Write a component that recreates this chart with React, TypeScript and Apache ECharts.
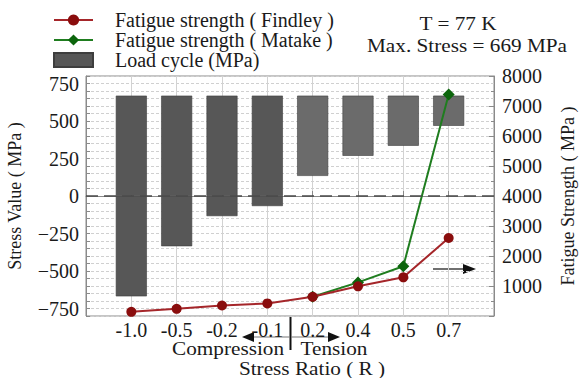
import React, { useEffect, useRef } from "react";
import * as echarts from "echarts";

const categories = ["-1.0", "-0.5", "-0.2", "-0.1", "0.2", "0.4", "0.5", "0.7"];
const loadMax = [669, 669, 669, 669, 669, 669, 669, 669];
const loadMin = [-669, -335, -134, -67, 134, 268, 335, 468];
const findley = [140, 240, 350, 420, 640, 990, 1290, 2600];
const matake: (number | null)[] = [null, null, null, null, 640, 1120, 1660, 7380];

const FONT = "'Liberation Serif', 'Times New Roman', serif";
const TXT = "#1a1a1a";

const pad = <T,>(arr: T[]): (T | null)[] => [null, ...arr, null];

export default function App() {
  const ref = useRef<HTMLDivElement>(null);
  useEffect(() => {
    document.body.style.margin = "0";
    if (!ref.current) return;
    const chart = echarts.init(ref.current, undefined, { renderer: "svg" });
    const xData = ["", ...categories, ""];
    const base = loadMin.map((m) => (m > 0 ? m : 0));
    const barColor = "#575757";
    const barColorT = "#6b6b6b";
    const barBorder = "#3e3e3e";
    const top = loadMin.map((m, i) => ({
      value: loadMax[i] - (m > 0 ? m : 0),
      itemStyle: { color: m > 0 ? barColorT : barColor },
    }));
    const neg = loadMin.map((m) => (m < 0 ? m : null));

    const scaledText = (text: string, x: number, y: number, size = 18) => ({
      type: "text",
      x,
      y,
      scaleX: 1.18,
      style: {
        text,
        fontFamily: FONT,
        fontSize: size,
        fill: TXT,
        textAlign: "center",
        textVerticalAlign: "middle",
      },
    });

    chart.setOption({
      animation: false,
      backgroundColor: "#ffffff",
      grid: {
        left: 86,
        right: 86,
        top: 76,
        bottom: 62,
        outerBoundsMode: "none",
        containLabel: false,
        show: true,
        borderColor: "#8a8a8a",
        borderWidth: 1,
      },
      legend: {
        data: [
          "Fatigue strength ( Findley )",
          "Fatigue strength ( Matake )",
          { name: "Load cycle (MPa)", icon: "rect", itemStyle: { color: barColor } },
        ],
        orient: "vertical",
        left: 48,
        top: 5,
        itemWidth: 39,
        itemHeight: 14,
        itemGap: 0,
        textStyle: {
          fontFamily: FONT,
          fontSize: 20,
          color: TXT,
          lineHeight: 20,
          padding: [0, 0, 0, 17],
        },
      },
      xAxis: {
        type: "category",
        data: xData,
        boundaryGap: false,
        axisLine: { lineStyle: { color: "#8a8a8a" } },
        axisTick: { show: true, inside: true, length: 5, lineStyle: { color: "#8a8a8a" } },
        axisLabel: {
          fontFamily: FONT,
          fontSize: 20,
          color: TXT,
          margin: 4,
          interval: 0,
        },
        splitLine: { show: true, lineStyle: { color: "#d2d2d2", width: 1 } },
      },
      yAxis: [
        {
          type: "value",
          min: -800,
          max: 800,
          interval: 50,
          name: "Stress Value ( MPa )",
          nameLocation: "middle",
          nameGap: 71,
          nameRotate: 90,
          nameMoveOverlap: false,
          nameTextStyle: { fontFamily: FONT, fontSize: 18, color: TXT, verticalAlign: "middle" },
          axisLine: { show: true, lineStyle: { color: "#8a8a8a" } },
          axisTick: { show: true, inside: true, length: 4, lineStyle: { color: "#8a8a8a" } },
          axisLabel: {
            fontFamily: FONT,
            fontSize: 20,
            color: TXT,
            margin: 7,
            formatter: (v: number) =>
              v % 250 === 0 && Math.abs(v) <= 750
                ? v < 0
                  ? "\u2212" + Math.abs(v)
                  : String(v)
                : "",
          },
          splitLine: { show: true, lineStyle: { color: "#d0d0d0", type: [3, 2], width: 1 } },
        },
        {
          type: "value",
          min: 0,
          max: 8000,
          interval: 1000,
          position: "right",
          name: "Fatigue Strength ( MPa )",
          nameLocation: "middle",
          nameGap: 74,
          nameRotate: 90,
          nameMoveOverlap: false,
          nameTextStyle: { fontFamily: FONT, fontSize: 18, color: TXT, verticalAlign: "middle" },
          axisLine: { show: true, lineStyle: { color: "#8a8a8a" } },
          axisTick: { show: true, inside: true, length: 5, lineStyle: { color: "#8a8a8a" } },
          minorTick: { show: true, splitNumber: 2, length: 3, lineStyle: { color: "#8a8a8a" } },
          axisLabel: {
            fontFamily: FONT,
            fontSize: 20,
            color: TXT,
            margin: 8,
            formatter: (v: number) => (v === 0 ? "" : String(v)),
          },
          splitLine: { show: false },
        },
      ],
      series: [
        {
          name: "base",
          type: "bar",
          stack: "pos",
          barWidth: 31,
          barGap: "-100%",
          data: pad(base),
          itemStyle: { color: "rgba(0,0,0,0)" },
          emphasis: { disabled: true },
          silent: true,
        },
        {
          name: "Load cycle (MPa)",
          type: "bar",
          stack: "pos",
          barWidth: 31,
          barGap: "-100%",
          data: pad(top),
          itemStyle: { color: barColor, borderColor: barBorder, borderWidth: 0.6 },
          markLine: {
            silent: true,
            symbol: "none",
            label: { show: false },
            lineStyle: { color: "#4a4a4a", type: [12, 6], width: 1.6 },
            data: [{ yAxis: 0 }],
          },
        },
        {
          name: "Load cycle (MPa)",
          type: "bar",
          barWidth: 31,
          barGap: "-100%",
          data: pad(neg),
          itemStyle: { color: barColor, borderColor: barBorder, borderWidth: 0.6 },
        },
        {
          name: "Fatigue strength ( Matake )",
          type: "line",
          yAxisIndex: 1,
          data: pad(matake),
          symbol: "diamond",
          symbolSize: 12,
          itemStyle: { color: "#0c650c" },
          lineStyle: { color: "#1f7d1f", width: 2 },
          z: 3,
        },
        {
          name: "Fatigue strength ( Findley )",
          type: "line",
          yAxisIndex: 1,
          data: pad(findley),
          symbol: "circle",
          symbolSize: 10,
          itemStyle: { color: "#8a0d0d" },
          lineStyle: { color: "#a5262a", width: 2 },
          z: 4,
        },
      ],
      graphic: [
        scaledText("T = 77 K", 458, 24),
        scaledText("Max. Stress = 669 MPa", 467, 46),
        scaledText("Compression", 228, 349),
        scaledText("Tension", 334, 349),
        scaledText("Stress Ratio ( R )", 312, 369),
        { type: "line", shape: { x1: 290.5, y1: 317, x2: 290.5, y2: 350 }, style: { stroke: "#111", lineWidth: 2 } },
        { type: "line", shape: { x1: 290, y1: 337, x2: 253, y2: 337 }, style: { stroke: "#777", lineWidth: 1.2 } },
        { type: "polygon", shape: { points: [[242, 337], [254, 332], [254, 342]] }, style: { fill: "#111" } },
        { type: "line", shape: { x1: 291, y1: 337, x2: 329, y2: 337 }, style: { stroke: "#777", lineWidth: 1.2 } },
        { type: "polygon", shape: { points: [[340, 337], [328, 332], [328, 342]] }, style: { fill: "#111" } },
        { type: "line", shape: { x1: 433, y1: 269, x2: 464, y2: 269 }, style: { stroke: "#111", lineWidth: 1.2 } },
        { type: "polygon", shape: { points: [[476, 269], [463, 264], [463, 274]] }, style: { fill: "#111" } },
      ],
    });
    return () => chart.dispose();
  }, []);
  return <div ref={ref} style={{ width: 580, height: 378 }} />;
}
